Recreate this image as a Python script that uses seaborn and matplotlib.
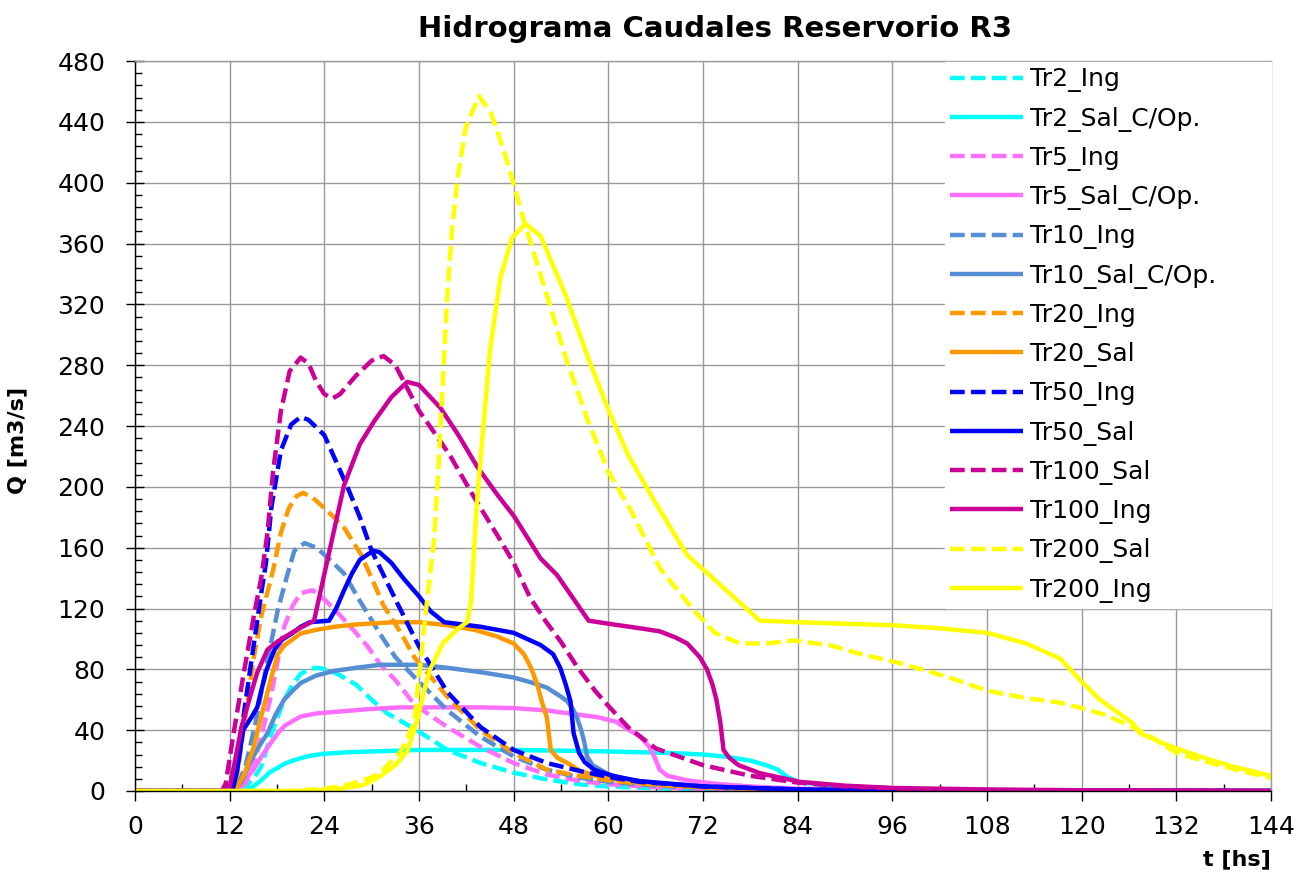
import matplotlib
matplotlib.use("Agg")
import matplotlib.pyplot as plt
import seaborn as sns
from matplotlib.ticker import MultipleLocator

# ---------------- data ----------------
t_tr2_ing = [0, 12, 13, 14, 15, 16, 17.3, 18.9, 20, 21, 22, 23, 24.4, 26, 28, 30, 32, 35.4, 39.6, 43.8, 48, 52.2, 56.5, 60, 66, 72, 84, 100, 144]
q_tr2_ing = [0, 0, 1, 3, 8, 16, 38, 60, 70, 77, 80, 81, 80, 76, 70, 60, 51, 41, 27, 18.4, 12, 7.6, 4.3, 3, 1.8, 1, 0.4, 0, 0]

t_tr2_sal = [0, 13, 14, 15, 16, 17, 18, 19, 20, 22, 24, 27, 30, 36, 42, 48, 54, 60, 64, 68, 72, 75, 78, 80, 81.5, 82.6, 84, 87, 90, 96, 108, 120, 144]
q_tr2_sal = [0, 0, 1, 3, 7, 12, 15, 18, 20, 23, 24.5, 25.5, 26, 27, 27, 27, 26.5, 26, 25.5, 25, 24, 22.5, 20, 17, 14, 9.5, 6, 4, 3, 1.5, 0.5, 0.2, 0]

t_tr5_ing = [0, 12, 13, 14, 15, 16, 17.3, 18.9, 20, 21, 22.5, 24, 26.1, 28, 29.5, 31.1, 33, 35.4, 39.6, 43.8, 48, 52.2, 56.5, 60, 66, 72, 84, 100, 144]
q_tr5_ing = [0, 0, 1, 5, 16, 36, 64, 108, 122, 130, 132, 126, 115, 104, 95, 83, 73, 57, 42, 29, 18.4, 10.8, 6.5, 4.5, 2.5, 1.5, 0.5, 0, 0]

t_tr5_sal = [0, 12.5, 13, 13.9, 15, 16, 17, 18.1, 19, 20, 21, 23, 25.3, 30, 33.7, 38, 43.8, 48, 52.2, 55, 58.6, 61, 62.3, 64, 65.2, 65.8, 66.5, 67.5, 70, 74, 78, 84, 96, 120, 144]
q_tr5_sal = [0, 0, 2, 7, 14, 22.4, 30, 38, 43, 46, 49, 51, 52, 54, 55, 55, 55, 54.5, 53, 51, 48.6, 45.5, 41, 36, 29, 23, 14, 10, 7, 4.5, 3, 1.5, 0.5, 0.1, 0]

t_tr10_ing = [0, 12, 13, 14, 15.2, 16.8, 18.1, 19.3, 20.2, 21.5, 23, 24.5, 26.5, 28.5, 31.1, 33, 35.4, 39.6, 43.8, 48, 52.2, 56.5, 60, 66, 72, 84, 100, 144]
q_tr10_ing = [0, 0, 4, 16, 43, 86, 119, 142, 158, 163, 160, 153, 143, 125, 103, 88, 75, 53, 35.7, 22.7, 14, 8.6, 6, 3.5, 2, 0.6, 0, 0]

t_tr10_sal = [0, 12.5, 13.5, 14.7, 15.8, 16.8, 17.8, 18.9, 20, 21, 23, 25.3, 28, 31.1, 36, 39.6, 44, 48, 50.5, 52.2, 54, 54.8, 55.5, 56, 56.5, 56.9, 57.3, 58, 60, 63, 66, 72, 84, 100, 144]
q_tr10_sal = [0, 0, 6, 20, 30, 38, 50, 60, 66, 71, 76, 79, 81, 83, 83, 81, 78, 74.6, 71, 68, 62, 59, 54, 48.6, 41, 33.5, 22.7, 17, 11, 7, 5, 3, 1, 0.3, 0]

t_tr20_ing = [0, 12, 12.5, 13, 13.7, 15, 16, 17.5, 18.5, 19.5, 20.5, 21.3, 22.5, 24, 26.4, 28.6, 30, 31.5, 33.7, 35.4, 39.6, 43.8, 48, 52.2, 56.5, 60.7, 66, 72, 84, 100, 144]
q_tr20_ing = [0, 0, 3, 12, 38, 86, 115, 145, 170, 186, 194, 196, 193, 186, 174, 156, 140, 122, 104, 88, 62, 40, 25, 14, 9.7, 6.5, 4, 2.5, 0.8, 0, 0]

t_tr20_sal = [0, 12.5, 13, 13.9, 15, 16, 17.3, 18.1, 19, 21, 23, 25.3, 28, 32.8, 36, 39.6, 43, 45.9, 48, 49.3, 50.2, 51, 51.6, 52.2, 52.7, 53.5, 54.8, 56.5, 58.6, 62, 66, 72, 84, 100, 144]
q_tr20_sal = [0, 0, 3, 11.5, 28, 49, 75, 90, 96, 103.6, 106, 108, 109.5, 111, 111, 109, 106, 101.6, 97, 90, 81, 70, 58, 48.6, 27, 22, 18.4, 13, 9.7, 6.5, 4.5, 2.5, 0.8, 0.2, 0]

t_tr50_ing = [0, 11.5, 12, 13, 13.7, 14.6, 16, 16.6, 17.3, 18.5, 19.8, 21, 22, 24, 27, 28.5, 30, 33.2, 36, 39.6, 43.8, 48, 52.2, 56.5, 60.7, 64, 72, 84, 96, 144]
q_tr50_ing = [0, 0, 4, 25, 47, 80, 130, 150, 187, 224, 241, 246, 244, 234, 199, 180, 158, 124, 95, 65, 42, 27, 18.4, 13, 8.6, 6, 3, 1, 0.3, 0]

t_tr50_sal = [0, 12, 12.5, 13, 13.7, 14.7, 15.5, 16, 16.7, 17.7, 18.5, 20, 21, 22.2, 24.6, 25.5, 26.5, 27.5, 28.5, 30.2, 31, 32.5, 34, 36, 37.5, 39.2, 43.8, 48, 51.4, 53, 53.9, 54.6, 55.2, 55.6, 56.3, 57, 58.2, 60.7, 64, 72, 84, 96, 144]
q_tr50_sal = [0, 0, 3, 15, 40, 48, 55, 66, 80, 93, 99, 104, 108, 111, 112, 120, 132, 143, 152, 158, 157, 150, 140, 128, 118, 111, 108, 104, 96, 90, 81, 70, 59, 38, 25, 19, 14, 9.7, 6.5, 3, 1, 0.3, 0]

t_tr100_sal = [0, 11, 11.5, 12.5, 13.7, 15.2, 16, 16.8, 17.5, 18.5, 19.6, 21, 22, 23, 24, 25, 26, 28, 30, 31.5, 33, 34.5, 36, 38.7, 40, 43, 46.3, 48, 50.1, 52, 54, 56, 58.3, 60, 62.5, 66, 72, 78, 84, 90, 100, 120, 144]
q_tr100_sal = [0, 0, 5, 38, 75, 119, 140, 170, 210, 250, 276, 285, 281, 269, 261, 258, 261, 273, 283, 286, 280, 265, 250, 230, 220, 193, 165, 150, 127, 112, 98, 82, 66, 56, 42, 28, 17, 10, 5.5, 3, 1, 0.2, 0]

t_tr100_ing = [0, 11.5, 12, 12.5, 13.5, 14.7, 15.5, 16.8, 18, 18.9, 20.5, 22.7, 24.4, 26.5, 28.5, 30.3, 32.5, 34.5, 36, 38.7, 41, 43.4, 45.9, 48, 51.4, 53.5, 55.5, 57.5, 60, 64, 66.5, 68.5, 70, 71.6, 72.5, 73.2, 73.7, 74.2, 74.6, 75.3, 76.5, 79.2, 84.3, 90, 96, 108, 120, 144]
q_tr100_ing = [0, 0, 3, 15, 42, 64, 78, 93, 98, 101, 106, 112, 152, 201, 228, 243, 259, 269, 267, 252, 234, 213, 195, 181, 153, 142, 127, 112, 110, 107, 105, 101, 97, 88, 80, 70, 60, 45, 27, 22, 17, 11.7, 6, 3.5, 2, 1, 0.5, 0]

t_tr200_sal = [0, 20, 24, 27, 30, 31.1, 33.7, 35.4, 36.2, 37, 37.9, 38.5, 39.2, 39.6, 40.2, 40.9, 41.9, 43.6, 45.1, 46, 47.4, 49.3, 52.2, 54.6, 57.3, 60, 62.8, 66.6, 70.8, 73.5, 76.7, 80, 83.4, 88, 92, 97, 103, 108, 113, 117.3, 120, 123, 126.5, 129, 132, 136, 140, 144]
q_tr200_sal = [0, 0, 1.5, 4, 9, 12, 26, 45, 85, 124, 165, 215, 288, 327, 370, 403, 436, 457, 446, 433, 410, 375, 326, 285, 245, 210, 185, 146, 119, 104, 97, 97, 99, 96, 90, 84, 75, 66, 61, 58, 54.5, 50, 42, 35, 25, 19, 13.5, 8.5]

t_tr200_ing = [0, 22, 26, 29, 31.1, 33, 34.5, 35.8, 37, 37.5, 39, 39.6, 41, 42.1, 42.6, 43, 43.3, 44, 45, 46.3, 47.8, 49.5, 51.4, 54.6, 57.5, 59.9, 62.4, 65.8, 70, 72.6, 76, 79.2, 84, 90, 96, 102, 108, 113, 117.3, 119.8, 122.3, 124.5, 126.5, 127.4, 130, 132, 136, 139.2, 144]
q_tr200_ing = [0, 0, 1.5, 4, 9.7, 17, 26, 47, 73, 81, 97, 100, 107, 111, 124, 160, 187, 230, 290, 337, 364, 373, 365, 326, 284, 252, 222, 191, 155, 143, 127, 112, 111, 110, 109, 107, 104, 97, 87, 73, 60, 52, 44.5, 38, 32, 28, 21, 16, 10]

labels = ["Tr2_Ing", "Tr2_Sal_C/Op.", "Tr5_Ing", "Tr5_Sal_C/Op.", "Tr10_Ing", "Tr10_Sal_C/Op.",
          "Tr20_Ing", "Tr20_Sal", "Tr50_Ing", "Tr50_Sal", "Tr100_Sal", "Tr100_Ing", "Tr200_Sal", "Tr200_Ing"]
times = [t_tr2_ing, t_tr2_sal, t_tr5_ing, t_tr5_sal, t_tr10_ing, t_tr10_sal, t_tr20_ing, t_tr20_sal,
         t_tr50_ing, t_tr50_sal, t_tr100_sal, t_tr100_ing, t_tr200_sal, t_tr200_ing]
flows = [q_tr2_ing, q_tr2_sal, q_tr5_ing, q_tr5_sal, q_tr10_ing, q_tr10_sal, q_tr20_ing, q_tr20_sal,
         q_tr50_ing, q_tr50_sal, q_tr100_sal, q_tr100_ing, q_tr200_sal, q_tr200_ing]
colors = ["#00FFFF", "#00FFFF", "#FF6FFF", "#FF6FFF", "#558ED5", "#558ED5", "#FF9900", "#FF9900",
          "#0000FF", "#0000FF", "#CC0099", "#CC0099", "#FFFF00", "#FFFF00"]
dashed = [True, False] * 7

# ---------------- figure ----------------
sns.set_theme(style="white")
plt.rcParams["font.family"] = ["DejaVu Sans"]
plt.rcParams["text.color"] = "black"
plt.rcParams["axes.labelcolor"] = "black"
plt.rcParams["xtick.color"] = "black"
plt.rcParams["ytick.color"] = "black"

fig = plt.figure(figsize=(13.12, 8.85), dpi=100)
ax = fig.add_axes([135 / 1312, 1 - 791 / 885, (1271 - 135) / 1312, (791 - 61) / 885])

for lab, tt, qq, col, dsh in zip(labels, times, flows, colors, dashed):
    sns.lineplot(x=tt, y=qq, ax=ax, color=col, linewidth=3.2, label=lab,
                 sort=False, errorbar=None, estimator=None)
    ln = ax.get_lines()[-1]
    ln.set_solid_capstyle("butt")
    ln.set_solid_joinstyle("round")
    if dsh:
        ln.set_dashes([3.3, 1.4])
        ln.set_dash_capstyle("butt")

ax.set_xlim(0, 144)
ax.set_ylim(0, 480)
ax.xaxis.set_major_locator(MultipleLocator(12))
ax.xaxis.set_minor_locator(MultipleLocator(6))
ax.yaxis.set_major_locator(MultipleLocator(40))
ax.yaxis.set_minor_locator(MultipleLocator(8))

ax.set_axisbelow(True)
ax.grid(True, which="major", color="#9a9a9a", linewidth=1.0)

for side in ["left", "bottom"]:
    ax.spines[side].set_color("black")
    ax.spines[side].set_linewidth(1.0)
for side in ["top", "right"]:
    ax.spines[side].set_color("#9a9a9a")
    ax.spines[side].set_linewidth(1.0)

ax.tick_params(axis="x", which="major", direction="out", length=7, width=1, color="black",
               labelcolor="black", labelsize=18, pad=10, bottom=True)
ax.tick_params(axis="x", which="minor", direction="in", length=5, width=1, color="black", bottom=True)
ax.tick_params(axis="y", which="major", direction="inout", length=13, width=1, color="black",
               labelcolor="black", labelsize=18, pad=15, left=True)
ax.tick_params(axis="y", which="minor", direction="in", length=5, width=1, color="black", left=True)

ax.set_xlabel("t [hs]", fontsize=16, fontweight="bold", loc="right", labelpad=8, color="black")
ax.set_ylabel("Q [m3/s]", fontsize=16, fontweight="bold", color="black")
ax.yaxis.set_label_coords(-0.095, 0.48)

fig.text(715 / 1312, 1 - 29 / 885, "Hidrograma Caudales Reservorio R3", fontsize=21,
         fontweight="bold", ha="center", va="center", color="black")

handles, labs = ax.get_legend_handles_labels()
x0 = (945 - 135) / 1136
leg = ax.legend(handles, labs, loc="upper left", bbox_to_anchor=(x0, 0, 1 - x0, 0.998),
                mode="expand", frameon=True, facecolor="white", edgecolor="white", framealpha=1,
                fancybox=False, fontsize=18, handlelength=2.9, handletextpad=0.3,
                labelspacing=0.57, borderpad=0.2, borderaxespad=0)
for txt in leg.get_texts():
    txt.set_color("black")

fig.savefig("out.png", dpi=100)
